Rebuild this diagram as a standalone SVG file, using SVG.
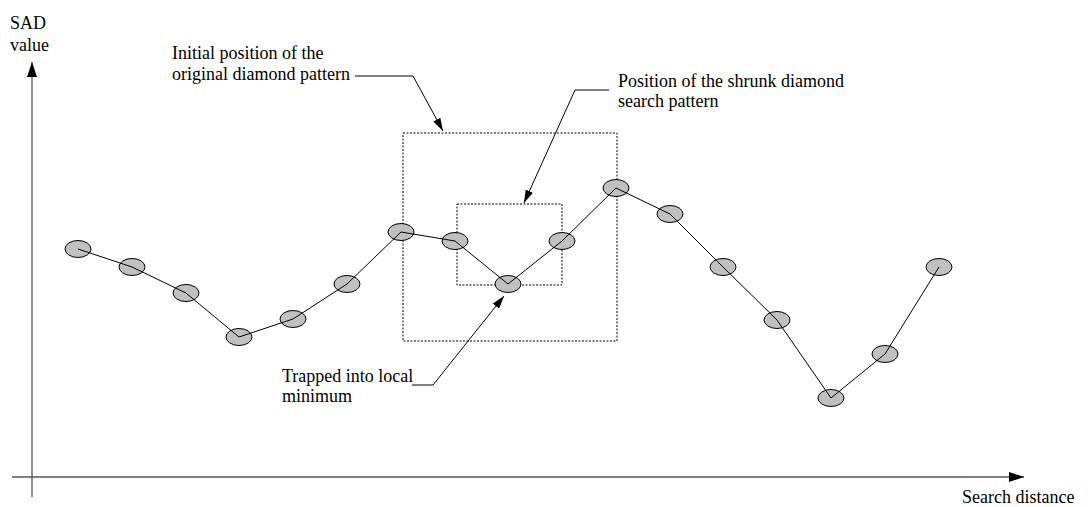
<svg xmlns="http://www.w3.org/2000/svg" width="1091" height="507" viewBox="0 0 1091 507">
  <style>
    .lbl { font-family: "Liberation Serif", "Times New Roman", serif; font-size: 18px; fill: #000; }
    .axis { stroke: #555; stroke-width: 1.3; fill: none; }
    .curve { stroke: #000; stroke-width: 1; fill: none; stroke-linejoin: miter; }
    .pt { fill: #c0c0c0; stroke: #000; stroke-width: 1; }
    .win { fill: none; stroke: #000; stroke-width: 1; stroke-dasharray: 2 1.5; }
    .lead { fill: none; stroke: #000; stroke-width: 1; }
  </style>
  <defs>
    <marker id="axisHead" markerUnits="userSpaceOnUse" markerWidth="15" markerHeight="10" refX="15" refY="5" orient="auto">
      <path d="M0,0 L15,5 L0,10 Z" fill="#000"/>
    </marker>
    <marker id="leadHead" markerUnits="userSpaceOnUse" markerWidth="13" markerHeight="8" refX="13" refY="4" orient="auto">
      <path d="M0,0 L13,4 L0,8 Z" fill="#000"/>
    </marker>
  </defs>

  <rect width="1091" height="507" fill="#fff"/>

  <!-- axes -->
  <g id="axes">
    <line class="axis" x1="32" y1="497" x2="32" y2="62" marker-end="url(#axisHead)"/>
    <line class="axis" x1="12" y1="477" x2="1024" y2="477" marker-end="url(#axisHead)"/>
    <text class="lbl" x="10" y="29">SAD</text>
    <text class="lbl" x="10" y="51">value</text>
    <text class="lbl" x="962" y="503">Search distance</text>
  </g>

  <!-- search windows -->
  <g id="window-initial">
    <rect class="win" x="403" y="133" width="214" height="208"/>
  </g>
  <g id="window-shrunk">
    <rect class="win" x="457" y="204" width="105" height="81"/>
  </g>

  <!-- SAD sample points -->
  <g id="points">
    <ellipse id="p1" class="pt" cx="78" cy="249" rx="13" ry="8.5"/>
    <ellipse id="p2" class="pt" cx="132" cy="267" rx="13" ry="8.5"/>
    <ellipse id="p3" class="pt" cx="186" cy="293" rx="13" ry="8.5"/>
    <ellipse id="p4" class="pt" cx="239" cy="337" rx="13" ry="8.5"/>
    <ellipse id="p5" class="pt" cx="293" cy="319" rx="13" ry="8.5"/>
    <ellipse id="p6" class="pt" cx="347" cy="284" rx="13" ry="8.5"/>
    <ellipse id="p7" class="pt" cx="401" cy="232" rx="13" ry="8.5"/>
    <ellipse id="p8" class="pt" cx="455" cy="241" rx="13" ry="8.5"/>
    <ellipse id="p9" class="pt" cx="508" cy="284" rx="13" ry="8.5"/>
    <ellipse id="p10" class="pt" cx="562" cy="241" rx="13" ry="8.5"/>
    <ellipse id="p11" class="pt" cx="616" cy="188" rx="13" ry="8.5"/>
    <ellipse id="p12" class="pt" cx="670" cy="214" rx="13" ry="8.5"/>
    <ellipse id="p13" class="pt" cx="723" cy="267" rx="13" ry="8.5"/>
    <ellipse id="p14" class="pt" cx="777" cy="320" rx="13" ry="8.5"/>
    <ellipse id="p15" class="pt" cx="831" cy="398" rx="13" ry="8.5"/>
    <ellipse id="p16" class="pt" cx="885" cy="354" rx="13" ry="8.5"/>
    <ellipse id="p17" class="pt" cx="939" cy="267" rx="13" ry="8.5"/>
  </g>

  <!-- connectors: SAD curve and callout leaders -->
  <g id="connectors">
    <polyline class="curve" points="78,249 132,267 186,293 239,337 293,319 347,284 401,232 455,241 508,284 562,241 616,188 670,214 723,267 777,320 831,398 885,354 939,267"/>
    <polyline class="lead" points="355,76 413,76 443,131" marker-end="url(#leadHead)"/>
    <polyline class="lead" points="609,90 575,90 524,203" marker-end="url(#leadHead)"/>
    <polyline class="lead" points="412,385 433,385 504,296" marker-end="url(#leadHead)"/>
  </g>

  <!-- callout labels -->
  <g id="label-initial">
    <text class="lbl" x="172" y="59">Initial position of the</text>
    <text class="lbl" x="172" y="80">original diamond pattern</text>
  </g>
  <g id="label-shrunk">
    <text class="lbl" x="618" y="87">Position of the shrunk diamond</text>
    <text class="lbl" x="618" y="107">search pattern</text>
  </g>
  <g id="label-trapped">
    <text class="lbl" x="282" y="382">Trapped into local</text>
    <text class="lbl" x="282" y="402">minimum</text>
  </g>
</svg>
